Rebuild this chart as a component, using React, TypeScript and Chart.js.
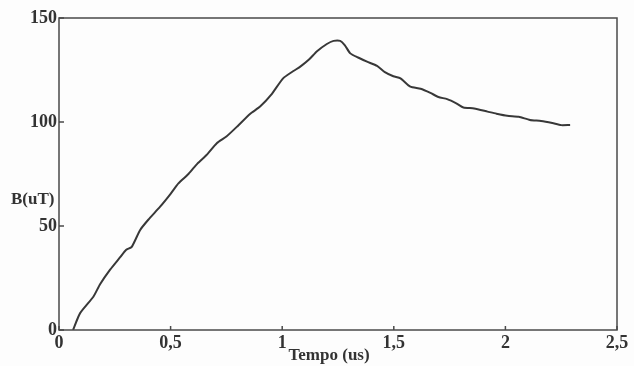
import React, { useEffect, useRef } from "react";
import { Chart, registerables } from "chart.js";

Chart.register(...registerables);

const timeValues = [
  0.063, 0.094, 0.154, 0.184, 0.229, 0.274, 0.3, 0.326, 0.363, 0.40, 0.453, 0.5, 0.535, 0.58, 0.62,
  0.66, 0.707, 0.75, 0.8, 0.857, 0.901, 0.95, 1.004, 1.05, 1.081, 1.12, 1.156, 1.2, 1.23, 1.26, 1.28, 1.305,
  1.34, 1.38, 1.425, 1.46, 1.498, 1.53, 1.574, 1.62, 1.664, 1.7, 1.739, 1.78, 1.812, 1.86, 1.92,
  1.96, 2.008, 2.06, 2.11, 2.16, 2.21, 2.25, 2.29,
];
const fieldValues = [
  0, 8, 16, 22, 29, 35, 38.5, 40, 48, 53, 59.3, 65.5, 70.5, 75, 80,
  84, 89.8, 93, 98, 104, 107.4, 113, 121, 124.5, 126.6, 130, 134, 137.5, 139, 139, 137, 133,
  131, 129, 127, 124, 122, 121, 117, 116, 114, 112, 111, 109, 107, 106.5, 105,
  104, 103, 102.5, 101, 100.5, 99.5, 98.5, 98.6,
];
const xTicks = [0, 0.5, 1, 1.5, 2, 2.5];
const yTicks = [0, 50, 100, 150];
const xTitle = "Tempo (us)";
const yTitle = "B(uT)";

const FONT = '"Liberation Serif", "Times New Roman", serif';
const INK = "#333333";

const framePlugin = {
  id: "frame",
  afterDraw(chart: any) {
    const { ctx, chartArea } = chart;
    const xs = chart.scales.x;
    const ys = chart.scales.y;
    ctx.save();
    ctx.strokeStyle = "#4a4a4a";
    ctx.lineWidth = 1.5;
    ctx.strokeRect(chartArea.left, chartArea.top, chartArea.right - chartArea.left, chartArea.bottom - chartArea.top);
    ctx.beginPath();
    xTicks.forEach((v) => {
      const px = xs.getPixelForValue(v);
      ctx.moveTo(px, chartArea.bottom);
      ctx.lineTo(px, chartArea.bottom - 4);
    });
    yTicks.forEach((v) => {
      const py = ys.getPixelForValue(v);
      ctx.moveTo(chartArea.left, py);
      ctx.lineTo(chartArea.left + 5, py);
    });
    ctx.stroke();
    ctx.fillStyle = INK;
    ctx.font = `bold 17px ${FONT}`;
    ctx.textBaseline = "middle";
    ctx.textAlign = "left";
    ctx.fillText(yTitle, 11, ys.getPixelForValue(62.5));
    ctx.textAlign = "center";
    ctx.fillText(xTitle, xs.getPixelForValue(1.21), 356);
    ctx.restore();
  },
};

export default function App() {
  const ref = useRef<HTMLCanvasElement>(null);
  useEffect(() => {
    if (!ref.current) return;
    const chart = new Chart(ref.current, {
      type: "line",
      data: {
        datasets: [
          {
            data: timeValues.map((t, i) => ({ x: t, y: fieldValues[i] })),
            borderColor: "#383838",
            borderWidth: 2,
            pointRadius: 0,
            tension: 0.2,
            fill: false,
          },
        ],
      },
      options: {
        animation: false,
        responsive: false,
        maintainAspectRatio: false,
        layout: { padding: { left: 0, right: 17, top: 18, bottom: 0 } },
        plugins: { legend: { display: false }, tooltip: { enabled: false } },
        scales: {
          x: {
            type: "linear",
            min: 0,
            max: 2.5,
            grid: { display: false, drawTicks: false },
            border: { display: false },
            afterFit: (s: any) => {
              s.height = 36;
            },
            afterBuildTicks: (s: any) => {
              s.ticks = xTicks.map((v) => ({ value: v }));
            },
            ticks: {
              padding: 3,
              color: INK,
              font: { family: FONT, size: 18, weight: "bold" },
              callback: (v: any) => String(v).replace(".", ","),
            },
          },
          y: {
            min: 0,
            max: 150,
            grid: { display: false, drawTicks: false },
            border: { display: false },
            afterFit: (s: any) => {
              s.width = 59;
            },
            afterBuildTicks: (s: any) => {
              s.ticks = yTicks.map((v) => ({ value: v }));
            },
            ticks: {
              padding: 2,
              color: INK,
              font: { family: FONT, size: 18, weight: "bold" },
            },
          },
        },
      },
      plugins: [framePlugin],
    });
    return () => chart.destroy();
  }, []);
  return (
    <div style={{ position: "fixed", left: 0, top: 0, width: 634, height: 366, background: "#fdfdfd" }}>
      <canvas ref={ref} width={634} height={366} style={{ width: 634, height: 366 }} />
    </div>
  );
}
